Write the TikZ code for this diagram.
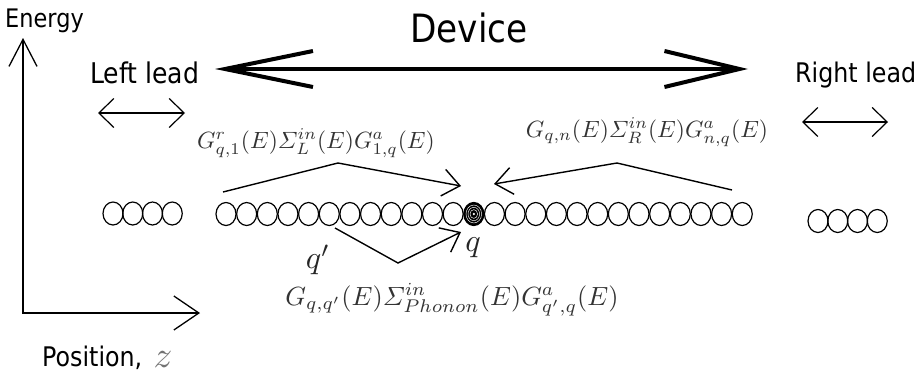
\documentclass[tikz,border=0pt]{standalone}
\usepackage{amsmath}
\usepackage{fontspec}
\newfontfamily\lblfont[FakeStretch=0.88]{DejaVu Sans}
\usetikzlibrary{arrows.meta,shapes.geometric}
\begin{document}
\begin{tikzpicture}[x=1pt,y=-1pt,
  lbl/.style={font=\lblfont\fontsize{#1pt}{#1pt}\selectfont, inner sep=0pt, anchor=base west},
  fml/.style={font=\fontsize{10}{12}\selectfont, scale=#1/10, transform shape, text=black!80, inner sep=0pt},
  atom/.style={draw, ellipse, line width=1.2pt, minimum width=20pt, minimum height=23pt, inner sep=0pt},
  thinarr/.style={line width=1.4pt, -{Straight Barb[length=17pt,width=27pt]}},
  leadarr/.style={line width=1.2pt, {Straight Barb[length=15pt,width=29pt]}-{Straight Barb[length=15pt,width=29pt]}}
]
\useasboundingbox (0,0) rectangle (920,383);

% labels
\node[lbl=25.5] (energy) at (5,27) {Energy};
\node[lbl=39] (device) at (410,42) {Device};
\node[lbl=28.5] (leftlead) at (90,83) {Left lead};
\node[lbl=27] (rightlead) at (795,82) {Right lead};
\node[lbl=27] (position) at (42,366) {Position,};
\node[fml=37, text=black!55, anchor=base west] (zlab) at (153,367) {$z$};

% device arrow
\coordinate (devL) at (215,69);
\coordinate (devR) at (748,69);
\draw[line width=4pt, {Straight Barb[length=88pt,width=36pt]}-{Straight Barb[length=75pt,width=36pt]}] (devL) -- (devR);

% lead arrows
\coordinate (llA) at (98,113); \coordinate (llB) at (185,113);
\draw[leadarr] (llA) -- (llB);
\coordinate (rlA) at (802,122); \coordinate (rlB) at (888,122);
\draw[leadarr] (rlA) -- (rlB);

% axes
\coordinate (ytop) at (23,38);
\coordinate (corner) at (23,313);
\coordinate (xend) at (200,313);
\draw[line width=1.3pt, {Straight Barb[length=27pt,width=28pt]}-{Straight Barb[length=25pt,width=34pt]}] (ytop) -- (corner) -- (xend);

% atoms
\foreach \i in {0,...,3} \node[atom] (ll\i) at (113+19.75*\i,213.5) {};
\foreach \i in {0,...,11} \node[atom] (d\i) at (226+20.65*\i,214) {};
\node[atom, fill=black] (q) at (226+20.65*12,214) {};
\foreach \r in {0.78,0.58,0.38} \draw[white, line width=0.45pt] (q.center) ellipse [x radius=10*\r pt, y radius=11.5*\r pt];
\fill[white] (q.center) circle [radius=1.3pt];
\foreach \i in {13,...,25} \node[atom] (d\i) at (226+20.65*\i,214) {};
\foreach \i in {0,...,3} \node[atom] (rl\i) at (818+19.75*\i,221) {};

% formulas
\node[fml=23.5] (fL) at (316,143) {$G^r_{q,1}(E)\varSigma^{in}_L(E)G^a_{1,q}(E)$};
\node[fml=23.5] (fR) at (647,132) {$G_{q,n}(E)\varSigma^{in}_R(E)G^a_{n,q}(E)$};
\node[fml=26.3] (fP) at (452,300) {$G_{q,q'}(E)\varSigma^{in}_{Phonon}(E)G^a_{q',q}(E)$};
\node[fml=32, text=black!85] (qp) at (318,260) {$q'$};
\node[fml=32, text=black!85] (ql) at (473,248) {$q$};

% contribution arrows
\coordinate (aLs) at (223,192); \coordinate (aLm) at (338,163); \coordinate (aLt) at (461,186);
\draw[thinarr] (aLs) -- (aLm) -- (aLt);
\coordinate (aRs) at (732,190); \coordinate (aRm) at (617,163); \coordinate (aRt) at (494,184);
\draw[thinarr] (aRs) -- (aRm) -- (aRt);
\coordinate (aPs) at (335,228); \coordinate (aPm) at (398,263); \coordinate (aPt) at (461,232);
\draw[thinarr] (aPs) -- (aPm) -- (aPt);
\end{tikzpicture}
\end{document}
